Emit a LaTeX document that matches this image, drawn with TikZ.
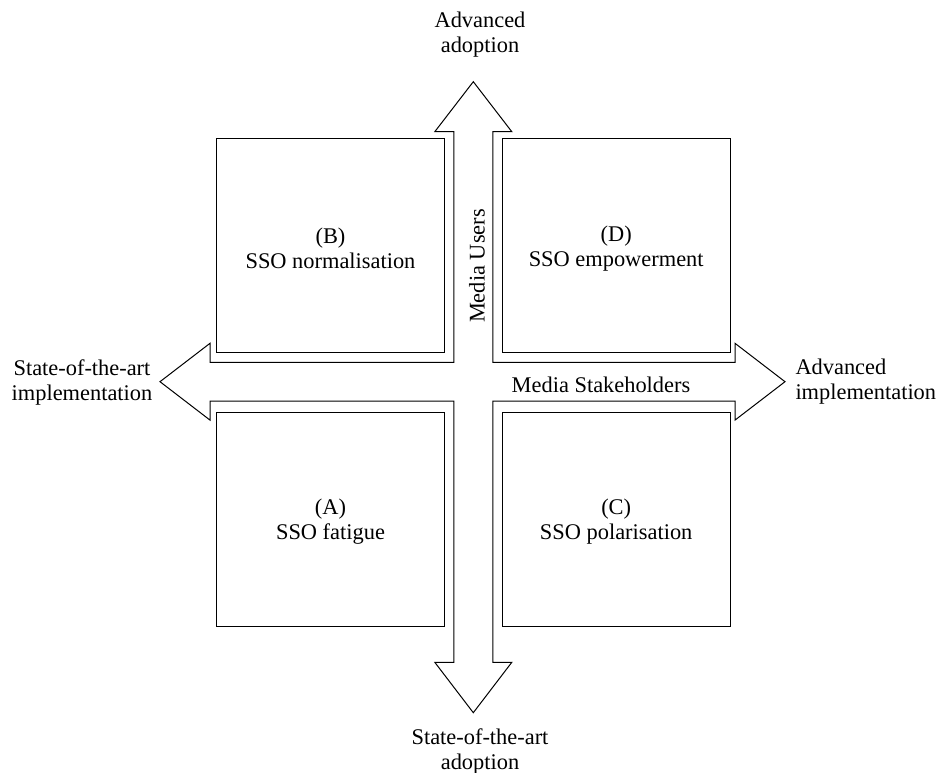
\documentclass[tikz,border=0pt]{standalone}
\usepackage{fontspec}
\setmainfont{Liberation Serif}
\begin{document}
\begin{tikzpicture}[x=1pt,y=-1pt,line width=1pt,
  quad/.style={draw,minimum width=227.6pt,minimum height=214.4pt,inner sep=0pt},
  lbl/.style={inner sep=0pt,align=center,font=\fontsize{22.4}{25}\selectfont},
  qlbl/.style={inner sep=0pt,align=center,font=\fontsize{22.4}{25.6}\selectfont}]
\useasboundingbox (0,0) rectangle (937,773);
% four-way arrow
\draw (473.3,81.7) -- (511.8,131.7) -- (492.8,131.7) -- (492.8,362.3)
  -- (735,362.3) -- (735,343.3) -- (785,381.7) -- (735,420.1) -- (735,401.1)
  -- (492.8,401.1) -- (492.8,662.3) -- (511.8,662.3) -- (473.3,712.7)
  -- (434.8,662.3) -- (453.8,662.3) -- (453.8,401.1) -- (210,401.1)
  -- (210,420.1) -- (160,381.7) -- (210,343.3) -- (210,362.3)
  -- (453.8,362.3) -- (453.8,131.7) -- (434.8,131.7) -- cycle;
% boxes
\node[quad] (B) at (330.5,245.5) {};
\node[quad] (D) at (616.2,245.5) {};
\node[quad] (A) at (330.5,519.5) {};
\node[quad] (C) at (616.2,519.5) {};
\node[qlbl] (Btext) at ([yshift=-3pt]B.center) {(B)\\SSO normalisation};
\node[qlbl] (Dtext) at ([yshift=-3pt]D.center) {(D)\\SSO empowerment};
\node[qlbl] (Atext) at ([yshift=-2pt]A.center) {(A)\\SSO fatigue};
\node[qlbl] (Ctext) at ([yshift=-2pt]C.center) {(C)\\SSO polarisation};
% axis labels
\node[lbl] (users) at (477,266) [rotate=90] {Media Users};
\node[lbl] (stake) at (601,385) {Media Stakeholders};
\node[lbl] (top) at (480,35) {Advanced\\adoption};
\node[lbl] (bottom) at (480,751) {State-of-the-art\\adoption};
\node[lbl,align=center] (left) at (82,382) {State-of-the-art\\implementation};
\node[lbl,align=left,anchor=west] (right) at (795,382) {Advanced\\implementation};
\end{tikzpicture}
\end{document}
